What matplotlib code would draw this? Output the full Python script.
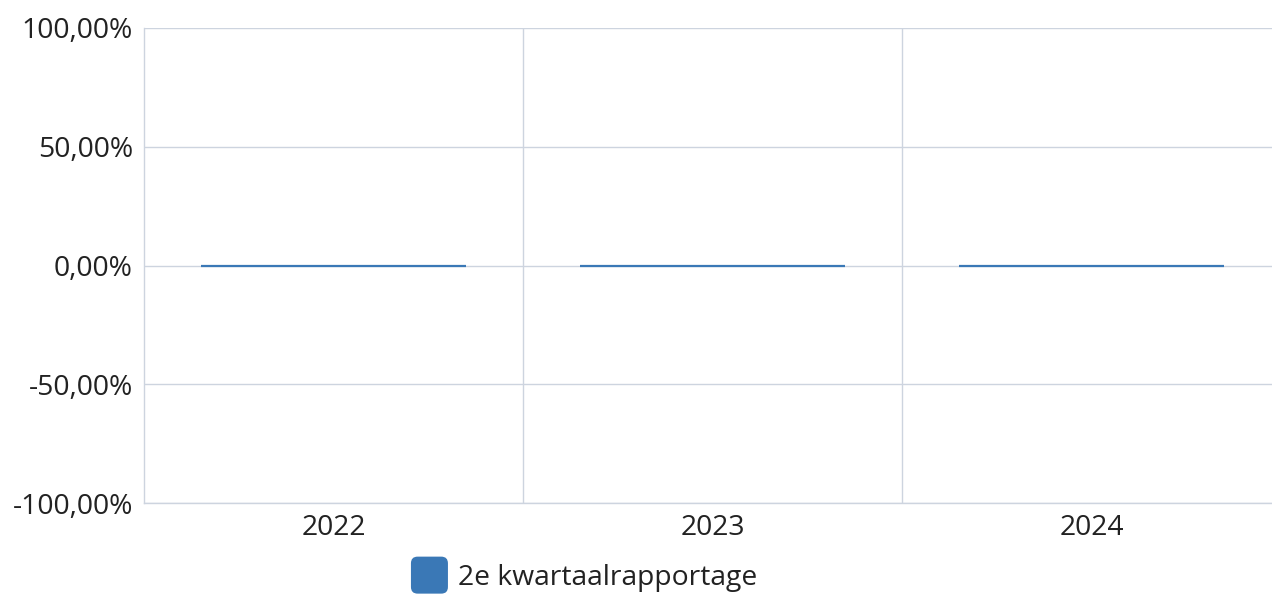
import matplotlib
matplotlib.use("Agg")
import matplotlib.pyplot as plt
from matplotlib.patches import FancyBboxPatch
from matplotlib.legend_handler import HandlerBase
from matplotlib.ticker import FuncFormatter, FixedLocator

plt.rcParams['font.family'] = ['Open Sans', 'DejaVu Sans']

years = ["2022", "2023", "2024"]
values = [0.0, 0.0, 0.0]
series_name = "2e kwartaalrapportage"
y_ticks = [-100, -50, 0, 50, 100]

BAR_COLOR = "#3a78b6"
GRID_COLOR = "#cdd4df"
TEXT_COLOR = "#222222"
FS = 20.3


class RoundSquareHandler(HandlerBase):
    def create_artists(self, legend, orig_handle, xdescent, ydescent,
                       width, height, fontsize, trans):
        size = 37 * 0.72
        x0 = xdescent + (width - size) / 2
        y0 = -ydescent + (height - size) / 2
        p = FancyBboxPatch((x0, y0), size, size,
                           boxstyle="round,pad=0,rounding_size=%f" % (size * 0.18),
                           facecolor=BAR_COLOR, edgecolor="none", transform=trans)
        return [p]


fig = plt.figure(figsize=(12.72, 5.97), dpi=100)
ax = fig.add_axes([144 / 1272, 94 / 597, 1137 / 1272, 475 / 597])

xs = list(range(len(years)))
bars = ax.bar(xs, values, width=0.7, color=BAR_COLOR, edgecolor=BAR_COLOR,
              linewidth=1.6, label=series_name, zorder=3)

ax.set_xlim(-0.5, len(years) - 0.5)
ax.set_ylim(-100, 100)
ax.set_yticks(y_ticks)
ax.yaxis.set_major_formatter(FuncFormatter(lambda v, p: ("%.2f" % v).replace(".", ",") + "%"))
ax.set_xticks(xs)
ax.set_xticklabels(years)
ax.xaxis.set_minor_locator(FixedLocator([i + 0.5 for i in xs[:-1]]))

ax.grid(axis="y", which="major", color=GRID_COLOR, linewidth=1)
ax.grid(axis="x", which="minor", color=GRID_COLOR, linewidth=1)
ax.grid(axis="x", which="major", visible=False)
ax.set_axisbelow(True)

for s in ["top", "right"]:
    ax.spines[s].set_visible(False)
for s in ["left", "bottom"]:
    ax.spines[s].set_color(GRID_COLOR)
    ax.spines[s].set_linewidth(1)

ax.tick_params(axis="both", which="both", length=0, labelsize=FS, colors=TEXT_COLOR)
ax.tick_params(axis="y", pad=8)
ax.tick_params(axis="x", pad=8)

leg = fig.legend(handles=[bars], labels=[series_name], loc="center",
                 bbox_to_anchor=(584 / 1272, 1 - 578 / 597), frameon=False,
                 fontsize=FS, handler_map={type(bars): RoundSquareHandler()},
                 handlelength=1.35, handletextpad=0.35, labelcolor=TEXT_COLOR)

fig.savefig("out.png", dpi=100)
